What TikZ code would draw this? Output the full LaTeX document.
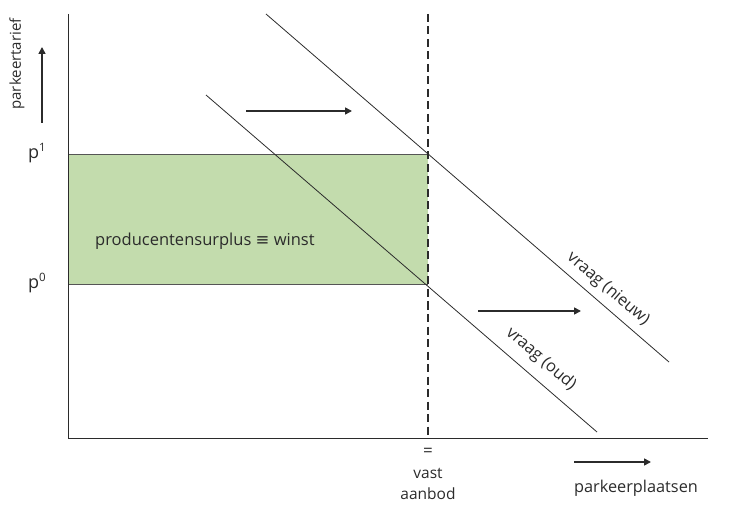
\documentclass[tikz,border=0pt]{standalone}
\usepackage{fontspec}
\setmainfont{Open Sans}
\newfontfamily\symfont{DejaVu Sans}
\usetikzlibrary{arrows.meta}
\definecolor{surplus}{HTML}{C3DCAD}
\definecolor{ink}{HTML}{2B2B2B}
\newcommand{\supnum}[1]{\raisebox{0.42em}{\fontsize{11.5}{12}\selectfont #1}}
\begin{document}
\begin{tikzpicture}[x=1pt,y=-1pt,
  lbl/.style={font=\fontsize{15.5}{18}\selectfont, text=ink, inner sep=0pt},
  axisline/.style={draw=ink, line width=0.9pt},
  curve/.style={draw=ink, line width=0.8pt},
  shiftarrow/.style={draw=ink, line width=1.6pt, -{Triangle[length=7pt,width=7pt]}}]
\useasboundingbox (0,0) rectangle (734,505);
% surplus area
\fill[surplus] (68,155) rectangle (428,285);
\draw[draw=ink!80, line width=1pt] (68,155) -- (428,155);
\draw[draw=ink!80, line width=1pt] (68,285) -- (428,285);
% axes
\coordinate (o) at (68,438);
\coordinate (ytop) at (68,14);
\coordinate (xend) at (708,438);
\draw[axisline] (ytop) -- (o) -- (xend);
% fixed supply
\coordinate (st) at (428,14);
\coordinate (sb) at (428,438);
\draw[draw=ink, line width=2.4pt, dash pattern=on 8pt off 4.5pt] (st) -- (sb);
% demand curves
\coordinate (oa) at (206,95);
\coordinate (ob) at (597,432);
\coordinate (na) at (266,14);
\coordinate (nb) at (669,362);
\draw[curve] (oa) -- (ob);
\draw[curve] (na) -- (nb);
\node[lbl, font=\fontsize{16.5}{18}\selectfont, rotate=-40.7] (voud) at (541,359) {vraag (oud)};
\node[lbl, font=\fontsize{16.5}{18}\selectfont, rotate=-40.7] (vnieuw) at (608,289) {vraag (nieuw)};
% shift arrows
\coordinate (a1s) at (246,111);
\coordinate (a1e) at (352,111);
\draw[shiftarrow] (a1s) -- (a1e);
\coordinate (a2s) at (478,311);
\coordinate (a2e) at (581,311);
\draw[shiftarrow] (a2s) -- (a2e);
% axis arrows
\coordinate (yas) at (42,123);
\coordinate (yae) at (42,47);
\draw[shiftarrow] (yas) -- (yae);
\coordinate (xas) at (574,462);
\coordinate (xae) at (651,462);
\draw[shiftarrow] (xas) -- (xae);
% labels
\node[lbl, font=\fontsize{15}{16}\selectfont, rotate=90] (ylab) at (17,64) {parkeertarief};
\node[lbl, font=\fontsize{18}{20}\selectfont] (p1) at (37,153) {p\supnum{1}};
\node[lbl, font=\fontsize{18}{20}\selectfont] (p0) at (37,283) {p\supnum{0}};
\node[lbl, font=\fontsize{16.5}{18}\selectfont, anchor=west] (ps) at (95,241) {producentensurplus {\symfont ≡} winst};
\node[lbl, font=\fontsize{17}{18}\selectfont] (eq) at (428,452) {=};
\node[lbl] (vast) at (428,473) {vast};
\node[lbl] (aanbod) at (428,494) {aanbod};
\node[lbl, font=\fontsize{16.3}{18}\selectfont] (xlab) at (636,488) {parkeerplaatsen};
\end{tikzpicture}
\end{document}
